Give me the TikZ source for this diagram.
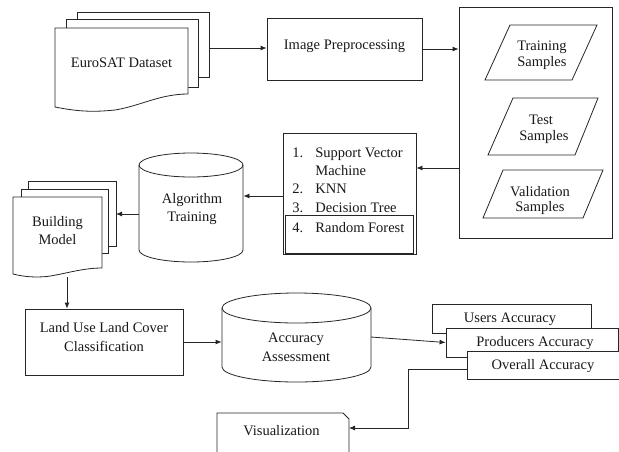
\documentclass[tikz,border=0pt]{standalone}
\usepackage{fontspec}
\setmainfont{Liberation Serif}
\usetikzlibrary{arrows.meta}
\begin{document}
\begin{tikzpicture}[x=1pt,y=-1pt,line width=0.8pt,draw=black!85,
  every node/.style={font=\fontsize{14.5}{18}\selectfont,inner sep=0pt,text=black!90},
  box/.style={draw,fill=white,rectangle},
  page/.style={draw,fill=white},
  txt/.style={align=center},
  lst/.style={anchor=base west},
  arr/.style={-{Latex[length=6pt,width=5pt]}}]
\useasboundingbox (0,0) rectangle (619,451);

% EuroSAT Dataset (multi-document)
\filldraw[page] (77,12) rectangle (209,77);
\filldraw[page] (66,19) rectangle (198,87);
\filldraw[page] (55,107) -- (55,28) -- (188,28) -- (188,94)
   .. controls (160,94) and (140,106) .. (115,110)
   .. controls (95,112) and (80,112) .. (55,107) -- cycle;
\node[txt] (euro) at (121.5,63) {EuroSAT Dataset};
\coordinate (euroE) at (209,48);

% Image Preprocessing
\node[box,minimum width=155pt,minimum height=62pt] (ip) at (344.5,49) {};
\node[txt] (iptxt) at (344.5,46) {Image Preprocessing};

% Big samples box
\node[box,minimum width=153pt,minimum height=231pt] (big) at (535.5,122.5) {};
\draw (485,80) -- (510,25) -- (597,25) -- (572,80) -- cycle;
\node[txt,font=\fontsize{14.5}{16}\selectfont] (train) at (542,55) {Training\\Samples};
\draw (488,155) -- (513,98) -- (598,98) -- (575,155) -- cycle;
\node[txt,font=\fontsize{14.5}{16}\selectfont] (test) at (541,129) {Test\\\hspace*{6pt}Samples};
\draw (483,218) -- (503,170) -- (603,170) -- (583,218) -- cycle;
\node[txt,font=\fontsize{14.5}{15}\selectfont] (valid) at (540,200.5) {Validation\\Samples};

% Algorithm list
\node[box,minimum width=133pt,minimum height=121pt] (list) at (349.5,193.5) {};
\node[draw,rectangle,minimum width=128pt,minimum height=38pt] (rf) at (349,234) {};
\node[lst] (n1) at (292,157) {1.};
\node[lst] (t1) at (315,157) {Support Vector};
\node[lst] (t1b) at (315,175) {Machine};
\node[lst] (n2) at (292,193) {2.};
\node[lst] (t2) at (315,193) {KNN};
\node[lst] (n3) at (292,212) {3.};
\node[lst] (t3) at (315,212) {Decision Tree};
\node[lst] (n4) at (292,232) {4.};
\node[lst] (t4) at (315,232) {Random Forest};

% Algorithm Training cylinder
\node[minimum width=104pt,minimum height=109pt] (algo) at (191,207.5) {};
\draw[fill=white] (139,165) -- (139,250) arc[start angle=180,end angle=0,x radius=52,y radius=12] -- (243,165);
\draw (191,165) ellipse[x radius=52,y radius=12];
\node[txt] (algotxt) at (192,209) {Algorithm\\Training};

% Building Model (multi-document)
\filldraw[page] (28,181) rectangle (116,246);
\filldraw[page] (21,189) rectangle (108,253);
\filldraw[page] (13,274) -- (13,197) -- (102,197) -- (102,268)
   .. controls (82,268) and (65,274) .. (47,276.5)
   .. controls (35,277.5) and (25,277) .. (13,274) -- cycle;
\node[txt] (bm) at (57.5,231) {Building\\Model};
\coordinate (bmE) at (116,214);
\coordinate (bmB) at (67,277);

% LULC
\node[box,minimum width=158pt,minimum height=66pt] (lulc) at (104,342) {};
\node[txt,font=\fontsize{14.5}{19}\selectfont] (lulctxt) at (104,337.5) {Land Use Land Cover\\Classification};

% Accuracy Assessment cylinder
\node[minimum width=149pt,minimum height=89pt] (acc) at (296.5,337.5) {};
\draw[fill=white] (222,308) -- (222,367) arc[start angle=180,end angle=0,x radius=74.5,y radius=15] -- (371,308);
\draw (296.5,308) ellipse[x radius=74.5,y radius=15];
\node[txt,font=\fontsize{14.5}{19}\selectfont] (acctxt) at (296,347.5) {Accuracy\\Assessment};

% Accuracy boxes
\node[box,minimum width=159pt,minimum height=29pt] (users) at (511.5,318.5) {};
\node (userstxt) at (510,319) {Users Accuracy};
\node[box,minimum width=172pt,minimum height=29pt] (prod) at (532,342.5) {};
\node (prodtxt) at (535,343) {Producers Accuracy};
\node[box,minimum width=152pt,minimum height=28pt] (ovr) at (543,365) {};
\node (ovrtxt) at (543,366) {Overall Accuracy};

% Visualization
\draw[fill=white] (217,470) -- (217,413) -- (343,413) -- (349,419) -- (349,470);
\node (vis) at (281.5,431) {Visualization};
\coordinate (visE) at (349,428);

% Connectors
\draw[arr] (euroE) -- (euroE -| ip.west);
\draw[arr] (ip.east) -- (ip.east -| big.west);
\coordinate (bigW) at (459,168);
\draw[arr] (bigW) -- (bigW -| list.east);
\coordinate (listW) at (283,196);
\draw[arr] (listW) -- (listW -| algo.east);
\coordinate (algoW) at (139,214);
\draw[arr] (algoW) -- (bmE);
\draw[arr] (bmB) -- (bmB |- lulc.north);
\draw[arr] (lulc.east) -- (lulc.east -| acc.west);
\coordinate (accE) at (371,337);
\draw[arr] (accE) -- (prod.west);
\coordinate (ovrW) at (467,369);
\draw[arr] (ovrW) -- ++(-59,0) |- (visE);
\end{tikzpicture}
\end{document}
